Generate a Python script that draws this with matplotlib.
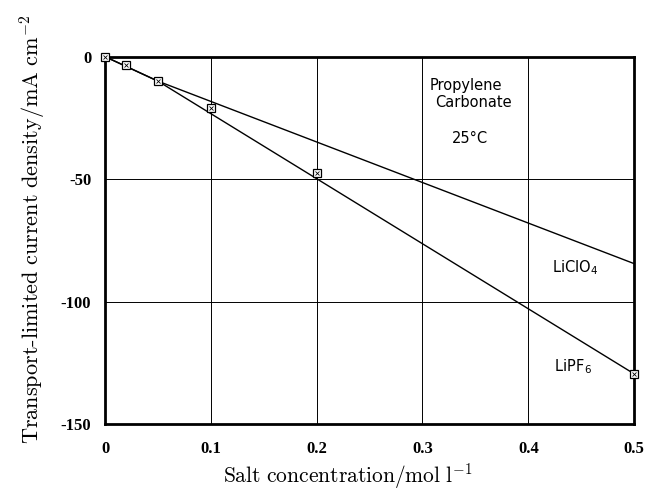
"""Transport-limited current density vs salt concentration in propylene carbonate."""

import matplotlib

matplotlib.use("Agg")
import matplotlib.pyplot as plt

# measured points (LiPF6 series, squares with a cross)
conc = [0.0, 0.02, 0.05, 0.1, 0.2, 0.5]
current = [0.0, -3.5, -10.0, -21.0, -47.5, -129.5]

# straight guide lines drawn through the data
lipf6_x = [0.0, 0.05, 0.5]
lipf6_y = [0.0, -10.0, -129.5]
liclo4_x = [0.0, 0.05, 0.5]
liclo4_y = [0.0, -10.0, -84.5]

x_ticks = [0, 0.1, 0.2, 0.3, 0.4, 0.5]
x_tick_labels = ["0", "0.1", "0.2", "0.3", "0.4", "0.5"]
y_ticks = [0, -50, -100, -150]
y_tick_labels = ["0", "-50", "-100", "-150"]


def main() -> None:
    plt.rcParams["mathtext.fontset"] = "cm"

    fig = plt.figure(figsize=(6.45, 4.93), dpi=100)
    ax = fig.add_axes([0.163, 0.14, 0.82, 0.745])

    for xv in x_ticks[1:-1]:
        ax.axvline(xv, color="black", linewidth=0.7, zorder=1)
    for yv in y_ticks[1:-1]:
        ax.axhline(yv, color="black", linewidth=0.7, zorder=1)

    ax.plot(lipf6_x, lipf6_y, color="black", linewidth=1.0, zorder=2)
    ax.plot(liclo4_x, liclo4_y, color="black", linewidth=1.0, zorder=2)
    ax.plot(conc, current, linestyle="none", marker="s", markersize=5.5,
            markerfacecolor="white", markeredgecolor="black", markeredgewidth=0.9,
            zorder=3, clip_on=False)
    ax.plot(conc, current, linestyle="none", marker="x", markersize=3.5,
            color="black", markeredgewidth=0.6, zorder=4, clip_on=False)

    ax.set_xlim(0, 0.5)
    ax.set_ylim(-150, 0)
    ax.set_xticks(x_ticks, x_tick_labels)
    ax.set_yticks(y_ticks, y_tick_labels)
    ax.tick_params(axis="both", direction="in", length=0, labelsize=12)
    ax.tick_params(axis="x", pad=12)
    ax.tick_params(axis="y", pad=10)
    for lab in ax.get_xticklabels() + ax.get_yticklabels():
        lab.set_family("Liberation Serif")
        lab.set_fontweight("bold")
    for spine in ax.spines.values():
        spine.set_linewidth(2.0)

    ax.set_xlabel(r"$\mathrm{Salt\ concentration/mol\ l^{-1}}$", fontsize=15.5,
                  labelpad=3, x=0.46)
    ax.set_ylabel(r"$\mathrm{Transport\text{-}limited\ current\ density/mA\ cm^{-2}}$",
                  fontsize=16, labelpad=9, y=0.53)

    sans = "DejaVu Sans"
    ax.text(0.307, -11.9, "Propylene", family=sans, fontsize=10.5, ha="left", va="center")
    ax.text(0.312, -18.8, "Carbonate", family=sans, fontsize=10.5, ha="left", va="center")
    ax.text(0.328, -33.5, "25°C", family=sans, fontsize=10.5, ha="left", va="center")
    ax.text(0.4225, -86.0, r"LiClO$_\mathregular{4}$", family=sans, fontsize=10.5,
            ha="left", va="center")
    ax.text(0.424, -126.5, r"LiPF$_\mathregular{6}$", family=sans, fontsize=10.5,
            ha="left", va="center")

    fig.savefig("out.png", dpi=100)
    plt.close(fig)


if __name__ == "__main__":
    main()
